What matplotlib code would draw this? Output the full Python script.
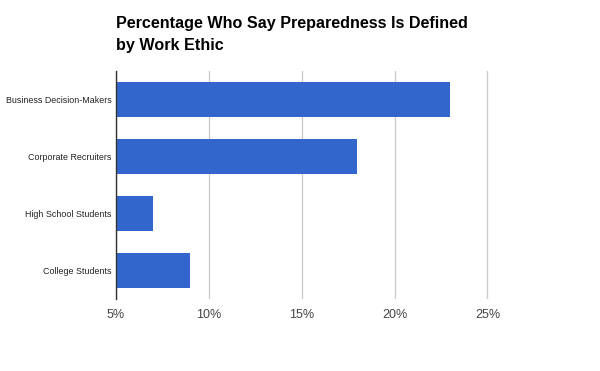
import matplotlib
matplotlib.use("Agg")
import matplotlib.pyplot as plt

categories = ["Business Decision-Makers", "Corporate Recruiters", "High School Students", "College Students"]
values = [23, 18, 7, 9]
x_ticks = [5, 10, 15, 20, 25]
tick_labels = ["5%", "10%", "15%", "20%", "25%"]

plt.rcParams["font.family"] = ["Liberation Sans", "DejaVu Sans"]

fig = plt.figure(figsize=(6, 3.71), dpi=100)
ax = fig.add_axes([0.1933, 0.194, 0.712, 0.6146])

pos = list(range(len(categories)))
ax.barh(pos, [v - 5 for v in values], left=5, height=0.61, color="#3366cc", zorder=3)

ax.set_ylim(len(categories) - 0.5, -0.5)
ax.set_xlim(5, 28)
ax.set_yticks(pos)
ax.set_yticklabels(categories, fontsize=6.4, color="#222222")
ax.set_xticks(x_ticks)
ax.set_xticklabels(tick_labels, fontsize=9, color="#444444")
ax.tick_params(axis="both", length=0)
ax.tick_params(axis="y", pad=3)
ax.tick_params(axis="x", pad=7)

ax.grid(axis="x", color="#cccccc", linewidth=1, zorder=0)
for s in ["top", "right", "bottom"]:
    ax.spines[s].set_visible(False)
ax.spines["left"].set_color("#333333")
ax.spines["left"].set_linewidth(1)
ax.spines["left"].set_zorder(4)

fig.text(116 / 600, 1 - 16 / 371, "Percentage Who Say Preparedness Is Defined\nby Work Ethic",
         fontsize=11.6, fontweight="bold", va="top", ha="left", linespacing=1.55)

fig.savefig("out.png", dpi=100)
